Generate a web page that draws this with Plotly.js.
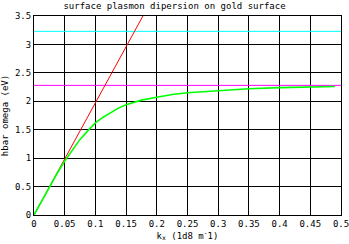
<!DOCTYPE html>
<html><head><meta charset="utf-8">
<script src="https://cdn.plot.ly/plotly-3.0.1.min.js"></script>
<style>html,body{margin:0;padding:0;background:#fff;}#c{width:349px;height:244px;}</style>
</head><body><div id="c"></div>
<script>
var lightX = [0, 0.1774];
var lightY = [0, 3.5];
var sppX = [0, 0.0125, 0.025, 0.0375, 0.05, 0.0625, 0.075, 0.0875, 0.1, 0.1125, 0.125, 0.1375, 0.15, 0.175, 0.2, 0.225, 0.25, 0.275, 0.3, 0.35, 0.4, 0.45, 0.49];
var sppY = [0, 0.25, 0.49, 0.73, 0.95, 1.15, 1.33, 1.48, 1.62, 1.72, 1.80, 1.88, 1.94, 2.02, 2.07, 2.12, 2.15, 2.17, 2.19, 2.22, 2.24, 2.25, 2.26];
var cyanX = [0, 0.5], cyanY = [3.23, 3.23];
var magX = [0, 0.5], magY = [2.28, 2.28];
var xTicks = [0, 0.05, 0.1, 0.15, 0.2, 0.25, 0.3, 0.35, 0.4, 0.45, 0.5];
var xTickText = ["0", "0.05", "0.1", "0.15", "0.2", "0.25", "0.3", "0.35", "0.4", "0.45", "0.5"];
var yTicks = [0, 0.5, 1, 1.5, 2, 2.5, 3, 3.5];
var yTickText = ["0", "0.5", "1", "1.5", "2", "2.5", "3", "3.5"];

var F = {family: "DejaVu Sans Mono, monospace", size: 9, color: "#000"};
var traces = [
  {x: cyanX, y: cyanY, mode: "lines", line: {color: "#00ffff", width: 1}},
  {x: magX, y: magY, mode: "lines", line: {color: "#ff00ff", width: 1}},
  {x: lightX, y: lightY, mode: "lines", line: {color: "#ff0000", width: 1}},
  {x: sppX, y: sppY, mode: "lines", line: {color: "#00ff00", width: 1.6}}
];
var layout = {
  width: 349, height: 244,
  margin: {l: 34, r: 8, t: 16, b: 29},
  paper_bgcolor: "#fff", plot_bgcolor: "#fff",
  showlegend: false,
  font: F,
  title: {text: "surface plasmon dipersion on gold surface", font: F, x: 0.5, xanchor: "center", y: 0.975, yanchor: "middle"},
  xaxis: {range: [0, 0.5], tickmode: "array", tickvals: xTicks, ticktext: xTickText,
    showgrid: true, gridcolor: "#000", gridwidth: 1,
    showline: true, linecolor: "#000", linewidth: 1, mirror: true, zeroline: false, ticks: "",
    tickfont: F, ticklabeloverflow: "allow",
    title: {text: "k<sub>x</sub> (1d8 m<sup>-</sup>1)", font: F, standoff: 4}},
  yaxis: {range: [0, 3.5], tickmode: "array", tickvals: yTicks, ticktext: yTickText,
    showgrid: true, gridcolor: "#000", gridwidth: 1,
    showline: true, linecolor: "#000", linewidth: 1, mirror: true, zeroline: false, ticks: "",
    tickfont: F, ticklabeloverflow: "allow",
    title: {text: "hbar omega (eV)", font: F, standoff: 4}}
};
Plotly.newPlot("c", traces, layout, {staticPlot: true, displayModeBar: false});
</script></body></html>
